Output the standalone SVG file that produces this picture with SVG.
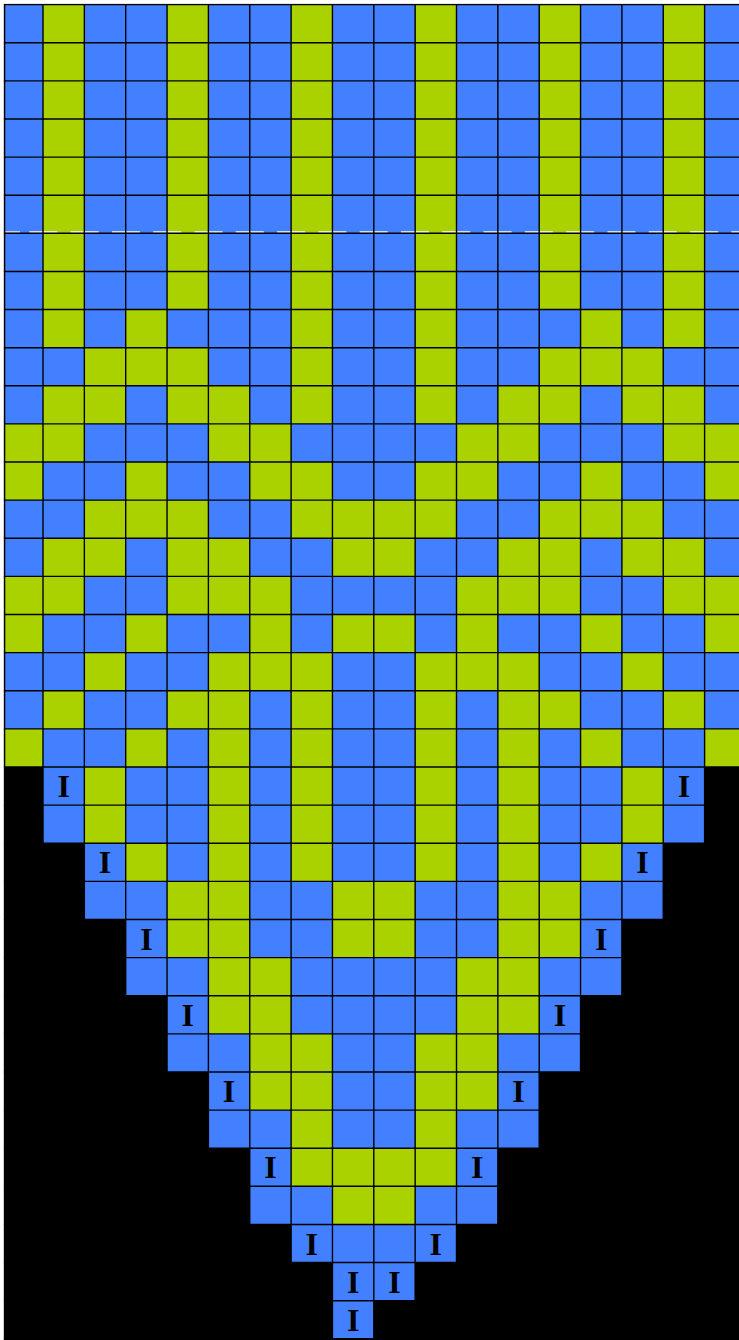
<svg xmlns="http://www.w3.org/2000/svg" width="739" height="1340" viewBox="0 0 739 1340">
<style>
.page{fill:#ffffff}
.bg{fill:#000000}
.b{fill:#4380FF}
.g{fill:#AAD200}
.grid{fill:none;stroke:#000000;stroke-width:1.4}
.dash{fill:none;stroke:#ffffff;stroke-width:1.3}
.lbl{font-family:"Liberation Serif","Times New Roman",serif;font-weight:bold;font-size:32px;fill:#000000;text-anchor:middle}
</style>
<rect class="page" x="0" y="0" width="739" height="1340"/>
<rect id="background" class="bg" x="3.9" y="3.9" width="736" height="1337"/>
<g id="blue-area">
<polygon class="b" points="4.6,4.6 739,4.6 739,767 704.6,767 704.6,843.24 663.25,843.24 663.25,919.48 621.9,919.48 621.9,995.72 580.55,995.72 580.55,1071.96 539.2,1071.96 539.2,1148.2 497.85,1148.2 497.85,1224.44 456.5,1224.44 456.5,1262.56 415.15,1262.56 415.15,1300.68 373.8,1300.68 373.8,1338.8 332.45,1338.8 332.45,1262.56 291.1,1262.56 291.1,1224.44 249.75,1224.44 249.75,1148.2 208.4,1148.2 208.4,1071.96 167.05,1071.96 167.05,995.72 125.7,995.72 125.7,919.48 84.35,919.48 84.35,843.24 43,843.24 43,767 4.6,767"/>
</g>
<g id="green-cells">
<rect class="g" x="4.6" y="423.92" width="38.4" height="76.24"/>
<rect class="g" x="4.6" y="576.4" width="38.4" height="76.24"/>
<rect class="g" x="4.6" y="728.88" width="38.4" height="38.12"/>
<rect class="g" x="43" y="4.6" width="41.35" height="343.08"/>
<rect class="g" x="43" y="385.8" width="41.35" height="76.24"/>
<rect class="g" x="43" y="538.28" width="41.35" height="76.24"/>
<rect class="g" x="43" y="690.76" width="41.35" height="38.12"/>
<rect class="g" x="84.35" y="347.68" width="41.35" height="76.24"/>
<rect class="g" x="84.35" y="500.16" width="41.35" height="76.24"/>
<rect class="g" x="84.35" y="652.64" width="41.35" height="38.12"/>
<rect class="g" x="84.35" y="767" width="41.35" height="76.24"/>
<rect class="g" x="125.7" y="309.56" width="41.35" height="76.24"/>
<rect class="g" x="125.7" y="462.04" width="41.35" height="76.24"/>
<rect class="g" x="125.7" y="614.52" width="41.35" height="38.12"/>
<rect class="g" x="125.7" y="728.88" width="41.35" height="38.12"/>
<rect class="g" x="125.7" y="843.24" width="41.35" height="38.12"/>
<rect class="g" x="167.05" y="4.6" width="41.35" height="304.96"/>
<rect class="g" x="167.05" y="347.68" width="41.35" height="76.24"/>
<rect class="g" x="167.05" y="500.16" width="41.35" height="114.36"/>
<rect class="g" x="167.05" y="690.76" width="41.35" height="38.12"/>
<rect class="g" x="167.05" y="881.36" width="41.35" height="76.24"/>
<rect class="g" x="208.4" y="385.8" width="41.35" height="76.24"/>
<rect class="g" x="208.4" y="538.28" width="41.35" height="76.24"/>
<rect class="g" x="208.4" y="652.64" width="41.35" height="381.2"/>
<rect class="g" x="249.75" y="423.92" width="41.35" height="76.24"/>
<rect class="g" x="249.75" y="576.4" width="41.35" height="114.36"/>
<rect class="g" x="249.75" y="957.6" width="41.35" height="152.48"/>
<rect class="g" x="291.1" y="4.6" width="41.35" height="419.32"/>
<rect class="g" x="291.1" y="462.04" width="41.35" height="76.24"/>
<rect class="g" x="291.1" y="652.64" width="41.35" height="228.72"/>
<rect class="g" x="291.1" y="1033.84" width="41.35" height="152.48"/>
<rect class="g" x="332.45" y="500.16" width="41.35" height="76.24"/>
<rect class="g" x="332.45" y="614.52" width="41.35" height="38.12"/>
<rect class="g" x="332.45" y="881.36" width="41.35" height="76.24"/>
<rect class="g" x="332.45" y="1148.2" width="41.35" height="76.24"/>
<rect class="g" x="373.8" y="500.16" width="41.35" height="76.24"/>
<rect class="g" x="373.8" y="614.52" width="41.35" height="38.12"/>
<rect class="g" x="373.8" y="881.36" width="41.35" height="76.24"/>
<rect class="g" x="373.8" y="1148.2" width="41.35" height="76.24"/>
<rect class="g" x="415.15" y="4.6" width="41.35" height="419.32"/>
<rect class="g" x="415.15" y="462.04" width="41.35" height="76.24"/>
<rect class="g" x="415.15" y="652.64" width="41.35" height="228.72"/>
<rect class="g" x="415.15" y="1033.84" width="41.35" height="152.48"/>
<rect class="g" x="456.5" y="423.92" width="41.35" height="76.24"/>
<rect class="g" x="456.5" y="576.4" width="41.35" height="114.36"/>
<rect class="g" x="456.5" y="957.6" width="41.35" height="152.48"/>
<rect class="g" x="497.85" y="385.8" width="41.35" height="76.24"/>
<rect class="g" x="497.85" y="538.28" width="41.35" height="76.24"/>
<rect class="g" x="497.85" y="652.64" width="41.35" height="381.2"/>
<rect class="g" x="539.2" y="4.6" width="41.35" height="304.96"/>
<rect class="g" x="539.2" y="347.68" width="41.35" height="76.24"/>
<rect class="g" x="539.2" y="500.16" width="41.35" height="114.36"/>
<rect class="g" x="539.2" y="690.76" width="41.35" height="38.12"/>
<rect class="g" x="539.2" y="881.36" width="41.35" height="76.24"/>
<rect class="g" x="580.55" y="309.56" width="41.35" height="76.24"/>
<rect class="g" x="580.55" y="462.04" width="41.35" height="76.24"/>
<rect class="g" x="580.55" y="614.52" width="41.35" height="38.12"/>
<rect class="g" x="580.55" y="728.88" width="41.35" height="38.12"/>
<rect class="g" x="580.55" y="843.24" width="41.35" height="38.12"/>
<rect class="g" x="621.9" y="347.68" width="41.35" height="76.24"/>
<rect class="g" x="621.9" y="500.16" width="41.35" height="76.24"/>
<rect class="g" x="621.9" y="652.64" width="41.35" height="38.12"/>
<rect class="g" x="621.9" y="767" width="41.35" height="76.24"/>
<rect class="g" x="663.25" y="4.6" width="41.35" height="343.08"/>
<rect class="g" x="663.25" y="385.8" width="41.35" height="76.24"/>
<rect class="g" x="663.25" y="538.28" width="41.35" height="76.24"/>
<rect class="g" x="663.25" y="690.76" width="41.35" height="38.12"/>
<rect class="g" x="704.6" y="423.92" width="41.35" height="76.24"/>
<rect class="g" x="704.6" y="576.4" width="41.35" height="76.24"/>
<rect class="g" x="704.6" y="728.88" width="41.35" height="38.12"/>
</g>
<g id="dashed-line">
<line class="dash" x1="5" y1="232" x2="20" y2="232"/>
<line class="dash" x1="29.3" y1="232" x2="739" y2="232" stroke-dasharray="28 13.3"/>
</g>
<g id="grid-lines">
<path class="grid" d="M3.9 4.6H739M3.9 42.72H739M3.9 80.84H739M3.9 118.96H739M3.9 157.08H739M3.9 195.2H739M3.9 233.32H739M3.9 271.44H739M3.9 309.56H739M3.9 347.68H739M3.9 385.8H739M3.9 423.92H739M3.9 462.04H739M3.9 500.16H739M3.9 538.28H739M3.9 576.4H739M3.9 614.52H739M3.9 652.64H739M3.9 690.76H739M3.9 728.88H739M3.9 767H739M3.9 805.12H739M3.9 843.24H739M3.9 881.36H739M3.9 919.48H739M3.9 957.6H739M3.9 995.72H739M3.9 1033.84H739M3.9 1071.96H739M3.9 1110.08H739M3.9 1148.2H739M3.9 1186.32H739M3.9 1224.44H739M3.9 1262.56H739M3.9 1300.68H739M3.9 1338.8H739"/>
<path class="grid" d="M4.6 3.9V1340M43 3.9V1340M84.35 3.9V1340M125.7 3.9V1340M167.05 3.9V1340M208.4 3.9V1340M249.75 3.9V1340M291.1 3.9V1340M332.45 3.9V1340M373.8 3.9V1340M415.15 3.9V1340M456.5 3.9V1340M497.85 3.9V1340M539.2 3.9V1340M580.55 3.9V1340M621.9 3.9V1340M663.25 3.9V1340M704.6 3.9V1340"/>
</g>
<g id="labels">
<text class="lbl" x="63.68" y="797.06">I</text>
<text class="lbl" x="683.93" y="797.06">I</text>
<text class="lbl" x="105.03" y="873.3">I</text>
<text class="lbl" x="642.58" y="873.3">I</text>
<text class="lbl" x="146.38" y="949.54">I</text>
<text class="lbl" x="601.23" y="949.54">I</text>
<text class="lbl" x="187.73" y="1025.78">I</text>
<text class="lbl" x="559.88" y="1025.78">I</text>
<text class="lbl" x="229.08" y="1102.02">I</text>
<text class="lbl" x="518.53" y="1102.02">I</text>
<text class="lbl" x="270.43" y="1178.26">I</text>
<text class="lbl" x="477.18" y="1178.26">I</text>
<text class="lbl" x="311.78" y="1254.5">I</text>
<text class="lbl" x="435.83" y="1254.5">I</text>
<text class="lbl" x="353.13" y="1292.62">I</text>
<text class="lbl" x="394.48" y="1292.62">I</text>
<text class="lbl" x="353.13" y="1330.74">I</text>
</g>
</svg>
